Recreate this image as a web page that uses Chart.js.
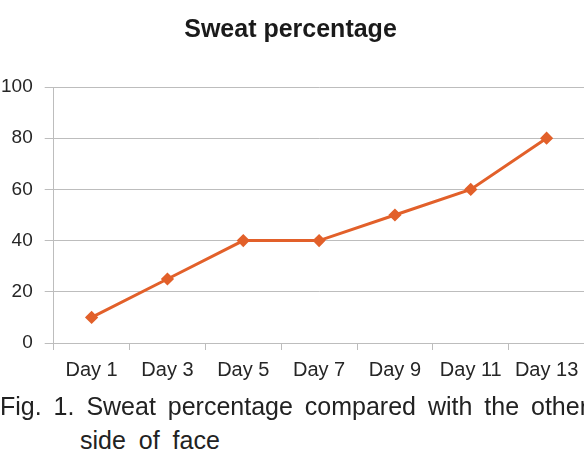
<!DOCTYPE html>
<html>
<head>
<meta charset="utf-8">
<script src="https://cdn.jsdelivr.net/npm/chart.js@4.4.1/dist/chart.umd.min.js"></script>
<style>
  html, body { margin: 0; padding: 0; background: #fff; }
  body { width: 584px; height: 456px; overflow: hidden; position: relative; }
  #wrap { position: absolute; left: 0; top: 0; width: 592px; height: 394px; }
  .cap {
    position: absolute;
    font-family: "Liberation Sans", Arial, sans-serif;
    font-size: 25px;
    line-height: 30px;
    color: #222;
    white-space: nowrap;
  }
  #cap1 { left: 0; top: 391px; width: 588px; text-align: justify; text-align-last: justify; white-space: normal; }
  #cap2 { left: 80px; top: 425px; word-spacing: 6px; }
</style>
</head>
<body>
<div id="wrap"><canvas id="sweat"></canvas></div>
<div class="cap" id="cap1">Fig. 1. Sweat percentage compared with the other</div>
<div class="cap" id="cap2">side of face</div>
<script>
// values
const days = ['Day 1', 'Day 3', 'Day 5', 'Day 7', 'Day 9', 'Day 11', 'Day 13'];
const sweatPct = [10, 25, 40, 40, 50, 60, 80];
const yTicks = [0, 20, 40, 60, 80, 100];

const orange = '#e2602a';
const gridGray = '#bdbdbd';

var sweatCtx = document.getElementById('sweat').getContext('2d');

var sweatChart = new Chart(sweatCtx, {
    type: 'line',
    data: {
        labels: days,
        datasets: [{
            label: 'Sweat percentage',
            data: sweatPct,
            borderColor: orange,
            backgroundColor: orange,
            borderWidth: 3,
            pointStyle: 'rectRot',
            pointRadius: 4.5,
            pointHoverRadius: 4.5,
            tension: 0,
            fill: false
        }]
    },
    options: {
        responsive: true,
        maintainAspectRatio: false,
        animation: false,
        layout: {
            padding: { left: -11, right: 0, top: 0, bottom: 4 }
        },
        scales: {
            x: {
                offset: true,
                grid: {
                    offset: true,
                    drawOnChartArea: false,
                    drawTicks: true,
                    tickLength: 7,
                    color: gridGray
                },
                border: { color: gridGray },
                ticks: {
                    color: '#262626',
                    padding: 8,
                    maxRotation: 0,
                    autoSkip: false,
                    font: { family: 'Liberation Sans, Arial, sans-serif', size: 20 }
                }
            },
            y: {
                min: yTicks[0],
                max: yTicks[yTicks.length - 1],
                afterBuildTicks: function(axis) {
                    axis.ticks = yTicks.map(v => ({ value: v }));
                },
                grid: {
                    color: gridGray,
                    tickLength: 9
                },
                border: { color: gridGray },
                ticks: {
                    color: '#262626',
                    padding: 12,
                    font: { family: 'Liberation Sans, Arial, sans-serif', size: 19 }
                }
            }
        },
        plugins: {
            title: {
                display: true,
                text: 'Sweat percentage',
                color: '#1a1a1a',
                font: { family: 'Liberation Sans, Arial, sans-serif', size: 25, weight: 'bold' },
                padding: { top: 15, bottom: 42 }
            },
            legend: { display: false },
            tooltip: { enabled: false }
        }
    }
});
</script>
</body>
</html>
